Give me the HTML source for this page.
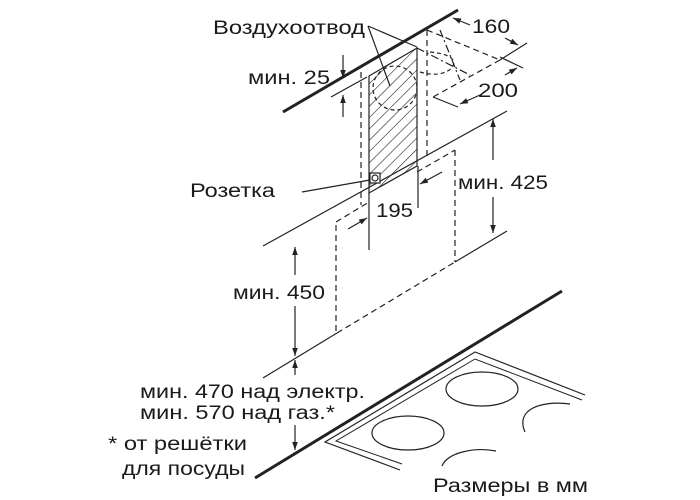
<!DOCTYPE html>
<html><head><meta charset="utf-8"><style>
html,body{margin:0;padding:0;background:#fff;}
svg{display:block;}
text{font-family:"Liberation Sans",sans-serif;font-size:19px;fill:#1a1a1a;}
</style></head><body>
<svg width="700" height="500" viewBox="0 0 700 500">
<defs>
<pattern id="h" width="8" height="8" patternUnits="userSpaceOnUse" patternTransform="rotate(45)">
<line x1="0" y1="0" x2="0" y2="8" stroke="#222" stroke-width="1.2"/>
</pattern>
<marker id="a" viewBox="0 0 10 10" refX="10" refY="5" markerWidth="8" markerHeight="8" orient="auto-start-reverse" markerUnits="userSpaceOnUse">
<path d="M0,1.5 L10,5 L0,8.5 z" fill="#222"/>
</marker>
</defs>
<g stroke="#222" fill="none" stroke-width="1.2">
<polygon points="369,76 417,48 417,166 369,193" fill="url(#h)" stroke="#222"/>
<circle cx="395" cy="88" r="22" stroke-dasharray="4,3"/>
<line x1="283" y1="112" x2="458" y2="10" stroke-width="3"/>
<line x1="331" y1="97" x2="367" y2="77"/>
<line x1="361" y1="72" x2="361" y2="205" stroke-dasharray="6,4"/>
<line x1="427" y1="30" x2="427" y2="160" stroke-dasharray="6,4"/>
<line x1="427" y1="30" x2="500" y2="60" stroke-dasharray="6,4"/>
<line x1="500" y1="60" x2="433" y2="97" stroke-dasharray="6,4"/>
<line x1="417" y1="48" x2="470" y2="75" stroke-dasharray="8,3,2,3"/>
<line x1="440" y1="30" x2="460" y2="80" stroke-dasharray="8,3,2,3"/>
<path d="M430,52 Q460,55 452,68 Q440,78 420,72" stroke-dasharray="4,3"/>
<line x1="433" y1="97" x2="458" y2="107"/>
<line x1="500" y1="60" x2="527" y2="43"/>
<line x1="500" y1="57" x2="523" y2="68"/>
<line x1="470" y1="25" x2="453" y2="18" marker-end="url(#a)"/>
<line x1="505" y1="38" x2="518" y2="45" marker-end="url(#a)"/>
<line x1="480" y1="95" x2="460" y2="104" marker-end="url(#a)"/>
<line x1="505" y1="75" x2="517" y2="68" marker-end="url(#a)"/>
<line x1="368" y1="26" x2="390" y2="86"/>
<line x1="368" y1="26" x2="417" y2="47"/>
<line x1="343" y1="55" x2="343" y2="78" marker-end="url(#a)"/>
<line x1="343" y1="117" x2="343" y2="95" marker-end="url(#a)"/>
<line x1="263" y1="246" x2="507" y2="111"/>
<rect x="370" y="173" width="10" height="10" fill="#fff"/>
<circle cx="375" cy="178" r="3"/>
<line x1="302" y1="192" x2="370" y2="180"/>
<line x1="336" y1="225" x2="336" y2="333" stroke-dasharray="6,4"/>
<line x1="455" y1="150" x2="455" y2="262" stroke-dasharray="6,4"/>
<line x1="336" y1="222" x2="369" y2="202" stroke-dasharray="6,4"/>
<line x1="417" y1="172" x2="455" y2="150" stroke-dasharray="6,4"/>
<line x1="369" y1="193" x2="369" y2="250"/>
<line x1="418" y1="166" x2="418" y2="208"/>
<line x1="442" y1="172" x2="420" y2="184" marker-end="url(#a)"/>
<line x1="348" y1="229" x2="367" y2="218" marker-end="url(#a)"/>
<line x1="263" y1="378" x2="337" y2="333"/>
<line x1="337" y1="333" x2="455" y2="262" stroke-dasharray="6,4"/>
<line x1="455" y1="262" x2="507" y2="231"/>
<line x1="493" y1="160" x2="493" y2="119" marker-end="url(#a)"/>
<line x1="493" y1="197" x2="493" y2="233" marker-end="url(#a)"/>
<line x1="295" y1="275" x2="295" y2="247" marker-end="url(#a)"/>
<line x1="295" y1="306" x2="295" y2="356" marker-end="url(#a)"/>
<line x1="295" y1="375" x2="295" y2="360" marker-end="url(#a)"/>
<line x1="295" y1="425" x2="295" y2="450" marker-end="url(#a)"/>
<line x1="255" y1="478" x2="562" y2="291" stroke-width="3"/>
<polyline points="400,470 325,442 475,352 585,395"/>
<polyline points="402,464 336,441 475,359 582,400" stroke-width="1"/>
<ellipse cx="482" cy="389" rx="36" ry="17"/>
<ellipse cx="408" cy="433" rx="36" ry="17"/>
<path d="M525,432 C515,410 540,400 570,404"/>
<path d="M442,466 C448,452 475,447 496,451"/>
</g>
<text x="213" y="34" textLength="152" lengthAdjust="spacingAndGlyphs">Воздухоотвод</text>
<text x="472" y="33" textLength="38" lengthAdjust="spacingAndGlyphs">160</text>
<text x="478" y="97" textLength="40" lengthAdjust="spacingAndGlyphs">200</text>
<text x="248" y="84" textLength="82" lengthAdjust="spacingAndGlyphs">мин. 25</text>
<text x="190" y="197" textLength="85" lengthAdjust="spacingAndGlyphs">Розетка</text>
<text x="376" y="217" textLength="37" lengthAdjust="spacingAndGlyphs">195</text>
<text x="458" y="189" textLength="90" lengthAdjust="spacingAndGlyphs">мин. 425</text>
<text x="233" y="299" textLength="92" lengthAdjust="spacingAndGlyphs">мин. 450</text>
<text x="140" y="398" textLength="225" lengthAdjust="spacingAndGlyphs">мин. 470 над электр.</text>
<text x="140" y="419" textLength="195" lengthAdjust="spacingAndGlyphs">мин. 570 над газ.*</text>
<text x="108" y="450" textLength="139" lengthAdjust="spacingAndGlyphs">* от решётки</text>
<text x="122" y="475" textLength="123" lengthAdjust="spacingAndGlyphs">для посуды</text>
<text x="433" y="492" textLength="155" lengthAdjust="spacingAndGlyphs">Размеры в мм</text>
</svg>
</body></html>
